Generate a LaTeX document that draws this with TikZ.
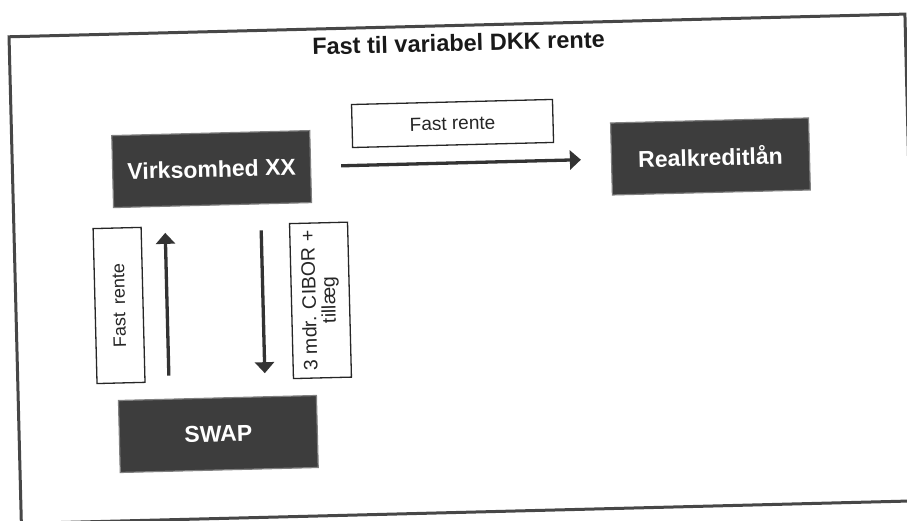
\documentclass[tikz,border=0pt]{standalone}
\usepackage{fontspec}
\setmainfont{Liberation Sans}
\usetikzlibrary{arrows.meta}
\begin{document}
\begin{tikzpicture}[x=1pt,y=-1pt,
  darkbox/.style={rectangle, fill=black!76, draw=black!50, line width=1.2pt,
    minimum width=198pt, minimum height=72pt, inner sep=0pt, text=white,
    font=\fontsize{23}{27}\selectfont\bfseries},
  labelbox/.style={rectangle, fill=white, draw=black!85, line width=1.3pt,
    inner sep=0pt, text=black!85},
  flow/.style={draw=black!80, line width=3.3pt, -{Triangle[length=11pt,width=19pt]}},
]
\useasboundingbox (0,0) rectangle (907,520);
\clip (0,0) rectangle (907,520);
\fill[white] (0,0) rectangle (907,520);
\begin{scope}[rotate around={1.45:(453,260)}, transform shape]
  \draw[black!72, line width=3pt] (14.8,25.6) rectangle (911,512.5);
  \node[font=\fontsize{23.5}{28}\selectfont\bfseries, text=black!90] (title) at (464,43) {Fast til variabel DKK rente};
  \node[darkbox] (vx) at (214,163) {Virksomhed XX};
  \node[darkbox] (rk) at (713,163) {Realkreditlån};
  \node[darkbox] (swap) at (214,428) {SWAP};
  \node[labelbox, minimum width=201pt, minimum height=43pt,
    font=\fontsize{19}{22}\selectfont] (lfast) at (456,123.5) {Fast rente};
  \node[labelbox, rotate=90, minimum width=155pt, minimum height=48pt,
    font=\fontsize{18}{21}\selectfont] (lfastv) at (118,297) {Fast\hspace{0.45em}rente};
  \node[labelbox, rotate=90, minimum width=155pt, minimum height=58pt, align=center,
    font=\fontsize{19.5}{19.5}\selectfont] (lcibor) at (319.5,297) {3 mdr. CIBOR +\\tillæg};
  \draw[flow, shorten <=30pt, shorten >=30pt] (vx) -- (rk);
  \draw[flow, shorten <=23pt, shorten >=26pt] ([xshift=-48pt]swap.north) -- ([xshift=-48pt]vx.south);
  \draw[flow, shorten <=26pt, shorten >=23pt] ([xshift=48pt]vx.south) -- ([xshift=48pt]swap.north);
\end{scope}
\end{tikzpicture}
\end{document}
